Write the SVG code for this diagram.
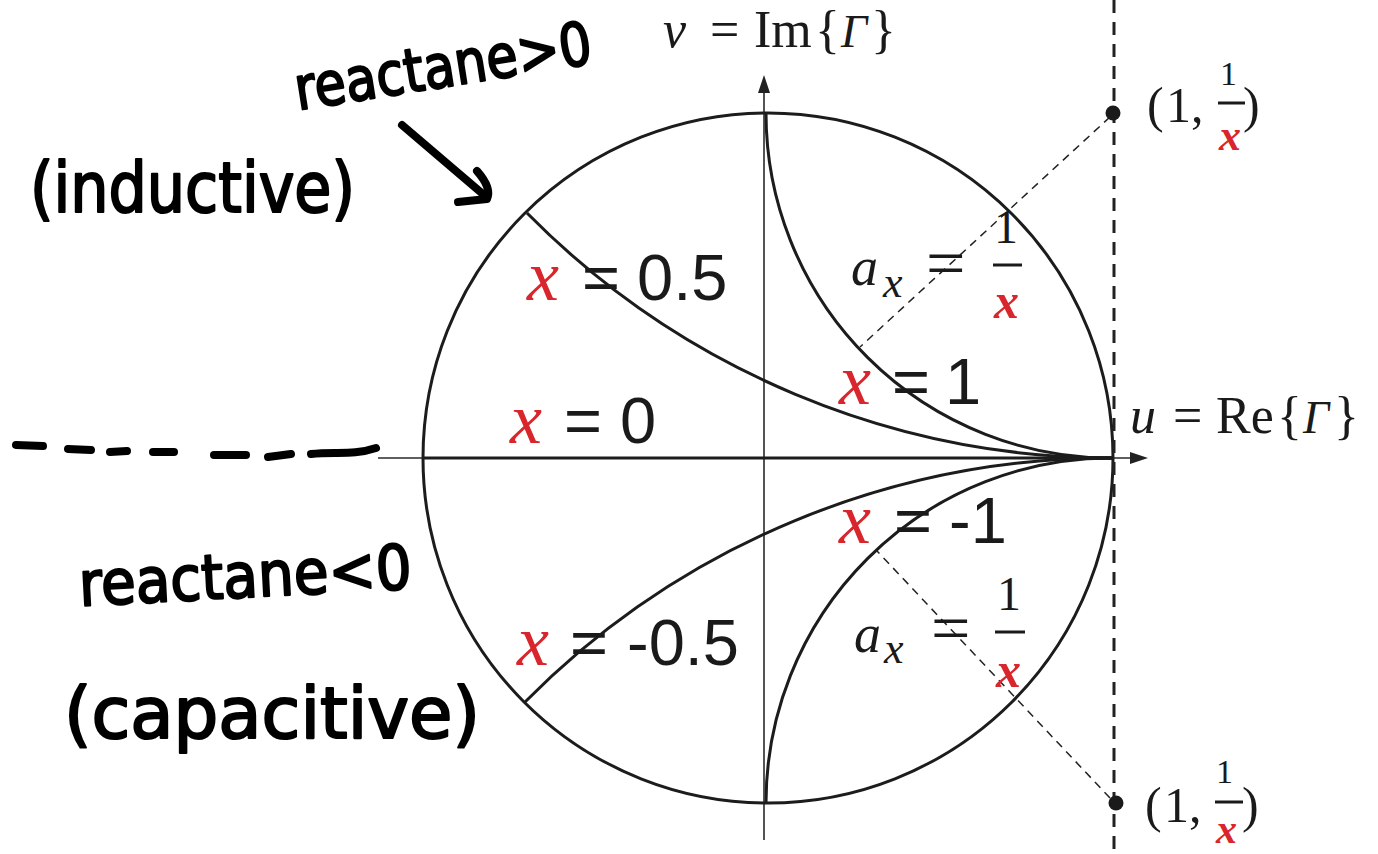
<svg xmlns="http://www.w3.org/2000/svg" width="1378" height="854" viewBox="0 0 1378 854">
<defs>
<style>
.ax{stroke:#2a2a2a;stroke-width:1.6;fill:none}
.crv{stroke:#1c1c1c;stroke-width:3;fill:none}
.dsh{stroke:#222;stroke-width:1.5;fill:none;stroke-dasharray:8 6}
.vdsh{stroke:#222;stroke-width:3;fill:none;stroke-dasharray:13 9}
.hand{stroke:#000;stroke-width:8;fill:none;stroke-linecap:round;stroke-linejoin:round}
.serif{font-family:"Liberation Serif","Times New Roman",serif;fill:#1a1a1a}
.it{font-style:italic}
.sans{font-family:"Liberation Sans",Arial,sans-serif;fill:#1a1a1a}
.red{fill:#d8262c}
.hw{font-family:"DejaVu Sans","Liberation Sans",sans-serif;font-weight:normal;fill:#000;stroke:#000;stroke-width:2.2;stroke-linejoin:round}
</style>
</defs>
<rect width="1378" height="854" fill="#ffffff"/>

<g id="axes">
<line class="ax" x1="764" y1="840" x2="764" y2="88"/>
<polygon points="764,75 758,93 770,93" fill="#222"/>
<line class="ax" x1="378" y1="458" x2="1134" y2="458"/>
<polygon points="1148,458 1130,452 1130,464" fill="#222"/>
</g>

<g id="unit-circle">
<circle class="crv" cx="768" cy="458" r="345"/>
</g>

<g id="reactance-curves">
<line class="crv" x1="423" y1="458" x2="1113" y2="458"/>
<path class="crv" d="M766,113 A345,345 0 0 0 1113,458"/>
<path class="crv" d="M766,803 A345,345 0 0 1 1113,458"/>
<path class="crv" d="M527,213 A823,823 0 0 0 1113,458"/>
<path class="crv" d="M525,702 A823,823 0 0 1 1113,458"/>
</g>

<g id="connectors">
<line class="vdsh" x1="1114" y1="0" x2="1114" y2="854"/>
<line class="dsh" x1="1110" y1="117" x2="860" y2="347"/>
<line class="dsh" x1="1110" y1="798" x2="877" y2="551"/>
<path class="hand" d="M402,125 L484,195"/>
<path class="hand" d="M477,171 Q492,188 487,199 L458,202"/>
<g id="hand-dashes">
<path class="hand" d="M16,445 L43,446"/>
<path class="hand" d="M68,449 L91,450"/>
<path class="hand" d="M110,452 L127,451"/>
<path class="hand" d="M153,452 L174,452"/>
<path class="hand" d="M214,455 L246,455"/>
<path class="hand" d="M268,457 L291,454"/>
<path class="hand" d="M311,454 C335,451 352,456 376,448"/>
</g>
</g>

<g id="point-upper">
<circle cx="1113" cy="113" r="7.5" fill="#1a1a1a"/>
<text class="serif" font-size="50" y="122"><tspan x="1147">(</tspan><tspan x="1166">1,</tspan><tspan x="1243">)</tspan></text>
<text class="serif" font-size="34" x="1220" y="85">1</text>
<line x1="1218" y1="103" x2="1245" y2="103" stroke="#1a1a1a" stroke-width="3"/>
<text class="serif it red" font-size="44" font-weight="bold" x="1219" y="150">x</text>
</g>

<g id="point-lower">
<circle cx="1116" cy="803" r="7.5" fill="#1a1a1a"/>
<text class="serif" font-size="50" y="822"><tspan x="1145">(</tspan><tspan x="1164">1,</tspan><tspan x="1242">)</tspan></text>
<text class="serif" font-size="34" x="1216" y="783">1</text>
<line x1="1215" y1="802" x2="1243" y2="802" stroke="#1a1a1a" stroke-width="3"/>
<text class="serif it red" font-size="42" font-weight="bold" x="1216" y="843">x</text>
</g>

<g id="axis-label-v">
<text class="serif" font-size="52" y="47"><tspan class="it" x="663">v</tspan><tspan x="710">=</tspan><tspan x="754">Im</tspan><tspan x="815">{</tspan><tspan class="it" font-size="46" x="841">Γ</tspan><tspan x="871">}</tspan></text>
</g>

<g id="axis-label-u">
<text class="serif" font-size="52" y="433"><tspan class="it" x="1130">u</tspan><tspan x="1173">=</tspan><tspan x="1216">Re</tspan><tspan x="1277">{</tspan><tspan class="it" font-size="46" x="1303">Γ</tspan><tspan x="1334">}</tspan></text>
</g>

<g id="label-x05">
<text class="serif it red" font-size="72" x="527" y="300">x</text>
<text class="sans" font-size="65" y="300"><tspan x="582">=</tspan><tspan x="637">0.5</tspan></text>
</g>
<g id="label-x0">
<text class="serif it red" font-size="72" x="510" y="443">x</text>
<text class="sans" font-size="65" y="443"><tspan x="564">=</tspan><tspan x="620">0</tspan></text>
</g>
<g id="label-x1">
<text class="serif it red" font-size="72" x="839" y="404">x</text>
<text class="sans" font-size="65" y="404"><tspan x="892">=</tspan><tspan x="945">1</tspan></text>
</g>
<g id="label-xm1">
<text class="serif it red" font-size="72" x="839" y="543">x</text>
<text class="sans" font-size="65" y="543"><tspan x="894">=</tspan><tspan x="949">-1</tspan></text>
</g>
<g id="label-xm05">
<text class="serif it red" font-size="72" x="517" y="665">x</text>
<text class="sans" font-size="65" y="665"><tspan x="570">=</tspan><tspan x="627">-0.5</tspan></text>
</g>

<g id="label-ax-upper">
<text class="serif it" font-size="54" x="851" y="285">a</text>
<text class="serif it" font-size="44" x="883" y="297">x</text>
<text class="serif" font-size="70" x="926" y="287">=</text>
<text class="serif" font-size="48" x="994" y="243">1</text>
<line x1="993" y1="265" x2="1022" y2="265" stroke="#1a1a1a" stroke-width="3"/>
<text class="serif it red" font-size="50" font-weight="bold" x="994" y="318">x</text>
</g>
<g id="label-ax-lower">
<text class="serif it" font-size="54" x="854" y="652">a</text>
<text class="serif it" font-size="44" x="884" y="663">x</text>
<text class="serif" font-size="70" x="931" y="652">=</text>
<text class="serif" font-size="48" x="997" y="610">1</text>
<line x1="995" y1="632" x2="1025" y2="632" stroke="#1a1a1a" stroke-width="3"/>
<text class="serif it red" font-size="50" font-weight="bold" x="996" y="687">x</text>
</g>

<g id="note-inductive">
<text class="hw" font-size="60" x="298" y="110" textLength="300" lengthAdjust="spacingAndGlyphs" transform="rotate(-9 298 110)">reactane&gt;0</text>
<text class="hw" font-size="70" x="30" y="212" textLength="325" lengthAdjust="spacingAndGlyphs">(inductive)</text>
</g>
<g id="note-capacitive">
<text class="hw" font-size="62" x="80" y="606" textLength="333" lengthAdjust="spacingAndGlyphs" transform="rotate(-3 80 606)">reactane&lt;0</text>
<text class="hw" font-size="72" x="64" y="738" textLength="416" lengthAdjust="spacingAndGlyphs">(capacitive)</text>
</g>
</svg>
